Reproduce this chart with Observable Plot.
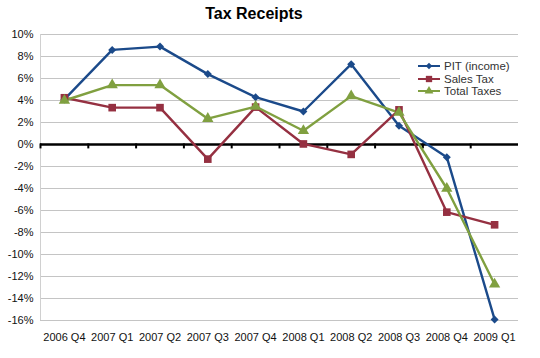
<!DOCTYPE html>
<html>
<head>
<meta charset="utf-8">
<script src="https://cdn.jsdelivr.net/npm/d3@7"></script>
<script src="https://cdn.jsdelivr.net/npm/@observablehq/plot@0.6"></script>
<style>
  html, body { margin: 0; padding: 0; background: #fff; }
  #wrap { position: relative; width: 540px; height: 358px; font-family: "Liberation Sans", Arial, sans-serif; }
  #title { position: absolute; left: 0; top: 5px; width: 508px; text-align: center; font-size: 16px; font-weight: bold; color: #000; }
  #legend { position: absolute; left: 400px; top: 59px; width: 118px; height: 38px; background: #fff; }
  .row { position: absolute; left: 17px; height: 12px; display: flex; align-items: center; font-size: 11.5px; color: #333; }
  .row svg { margin-right: 3px; }
  #chart { position: absolute; left: 0; top: 0; }
</style>
</head>
<body>
<div id="wrap">
  <div id="chart"></div>
  <div id="title">Tax Receipts</div>
  <div id="legend"></div>
</div>
<script>
const categories = ["2006 Q4","2007 Q1","2007 Q2","2007 Q3","2007 Q4","2008 Q1","2008 Q2","2008 Q3","2008 Q4","2009 Q1"];
const seriesNames = ["PIT (income)", "Sales Tax", "Total Taxes"];
const pit   = [4.1, 8.6, 8.9, 6.4, 4.3, 3.0, 7.3, 1.7, -1.15, -15.9];
const sales = [4.25, 3.35, 3.35, -1.33, 3.4, 0.05, -0.9, 3.15, -6.15, -7.3];
const total = [4.0, 5.4, 5.4, 2.35, 3.45, 1.25, 4.4, 2.9, -4.0, -12.7];
const yTicks = [-16,-14,-12,-10,-8,-6,-4,-2,0,2,4,6,8,10];

const colors = ["#1b4a8a", "#953041", "#80a040"];
const symbols = ["diamond2", "square", "triangle"];
const radii = [3.6, 4.3, 4.2];
const valuesBySeries = [pit, sales, total];

const data = [];
seriesNames.forEach((s, si) => {
  valuesBySeries[si].forEach((v, i) => data.push({series: s, i, value: v}));
});
const boundaries = d3.range(categories.length + 1).map(i => i - 0.5);

const chart = Plot.plot({
  width: 540,
  height: 358,
  marginLeft: 40,
  marginRight: 22,
  marginTop: 34,
  marginBottom: 38,
  style: {fontFamily: "Liberation Sans, Arial, sans-serif", fontSize: "11px", color: "#111", background: "transparent"},
  x: {domain: [-0.5, categories.length - 0.5], ticks: d3.range(categories.length), tickFormat: i => categories[i], tickSize: 0, tickPadding: 13, label: null},
  y: {domain: [-16, 10], ticks: yTicks, tickFormat: d => d + "%", tickSize: 0, tickPadding: 7, label: null},
  marks: [
    Plot.ruleY(yTicks.filter(d => d !== 0), {stroke: "#c4c4c4", strokeWidth: 1}),
    Plot.ruleX([-0.5], {stroke: "#d0d0d0", strokeWidth: 1}),
    Plot.ruleY([0], {stroke: "#000", strokeWidth: 2.6}),
    Plot.ruleX(boundaries.slice(0, -1), {y1: -0.4, y2: 0.05, stroke: "#000", strokeWidth: 2}),
    ...seriesNames.map((s, si) => Plot.line(data.filter(d => d.series === s), {x: "i", y: "value", stroke: colors[si], strokeWidth: 2.4})),
    ...seriesNames.map((s, si) => Plot.dot(data.filter(d => d.series === s), {x: "i", y: "value", fill: colors[si], stroke: "none", symbol: symbols[si], r: radii[si]}))
  ]
});
document.getElementById("chart").appendChild(chart);

// legend
const legend = document.getElementById("legend");
seriesNames.forEach((s, si) => {
  const row = document.createElement("div");
  row.className = "row";
  row.style.top = (1 + si * 12.7) + "px";
  const sym = d3.symbol(si === 2 ? d3.symbolTriangle : d3.symbolSquare, si === 0 ? 22 : si === 1 ? 40 : 34)();
  row.innerHTML = `<svg width="24" height="12"><line x1="1" x2="23" y1="6" y2="6" stroke="${colors[si]}" stroke-width="2"/><path d="${sym}" transform="translate(12,6)${si === 0 ? ' rotate(45)' : ''}" fill="${colors[si]}"/></svg><span>${s}</span>`;
  legend.appendChild(row);
});
</script>
</body>
</html>
